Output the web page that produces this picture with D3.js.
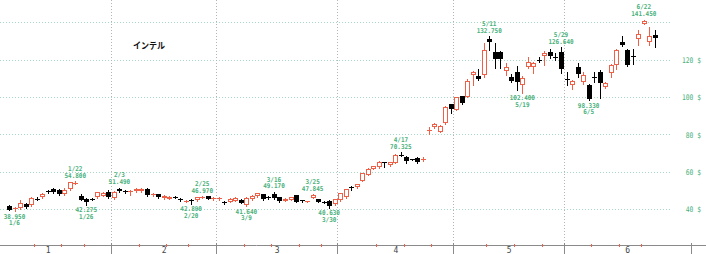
<!DOCTYPE html>
<html>
<head>
<meta charset="utf-8">
<script src="https://cdn.jsdelivr.net/npm/d3@7"></script>
<style>
  html, body { margin: 0; padding: 0; background: #fff; }
  svg { display: block; }
</style>
</head>
<body>
<div id="chart"></div>
<script>
var width = 706, height = 254;

// daily OHLC, one entry per trading day slot (Jan..Jun)
var open  = [41.6,40.2,40.4,42.7,42.1,45.6,46.2,49.6,50.6,50.2,47.9,50.6,53.7,47.0,45.4,45.6,46.4,47.2,49.3,
             45.7,50.5,49.8,49.1,49.4,49.5,50.7,47.7,47.8,45.8,45.6,46.5,45.6,44.3,44.8,44.8,46.0,46.8,45.2,
             45.1,43.9,43.8,44.5,44.8,42.4,45.3,46.7,47.9,46.5,47.9,46.3,44.4,44.9,47.5,44.6,44.0,46.0,45.2,44.0,44.5,42.7,
             44.8,46.3,51.6,51.8,55.2,58.3,61.5,62.3,65.0,63.6,64.9,69.2,67.7,66.6,67.4,66.2,82.0,83.7,81.2,86.0,96.2,
             93.2,100.4,100.2,111.7,111.4,111.6,131.0,124.3,124.4,113.7,110.5,113.6,106.6,116.0,116.0,120.0,121.8,124.3,121.7,124.0,
             109.8,106.5,116.3,108.2,106.5,110.9,113.6,105.3,112.7,117.0,129.3,125.1,121.8,131.0,139.4,129.7,133.2];
var high  = [42.2,40.9,44.6,43.4,46.5,46.3,48.6,50.2,51.2,50.9,51.1,54.5,54.8,48.0,45.8,46.0,49.3,49.0,50.0,
             49.5,51.49,50.3,50.0,51.3,51.0,51.0,48.6,48.2,47.3,46.9,46.9,46.0,45.0,45.1,46.5,46.97,46.9,46.3,
             46.2,44.3,45.8,46.3,45.1,46.3,47.3,48.7,48.3,46.9,49.17,46.6,45.9,46.5,47.7,45.0,44.5,47.845,45.6,44.4,44.8,45.5,
             48.7,50.9,52.3,53.6,59.4,62.0,63.3,65.5,65.4,65.3,69.3,70.325,68.6,66.8,67.8,67.6,84.2,86.3,84.8,95.2,96.5,
             100.0,100.6,109.5,113.8,115.0,129.2,132.75,128.8,124.8,118.0,112.5,116.6,111.5,121.6,119.0,121.5,124.5,125.5,123.4,126.64,
             113.6,109.3,118.5,113.2,106.8,113.6,114.5,108.2,117.6,125.5,132.5,125.8,125.6,135.9,141.45,137.7,135.9];
var low   = [39.3,38.95,40.2,40.6,41.8,44.8,45.8,48.6,48.8,47.5,47.6,50.3,53.2,44.6,42.275,44.9,46.0,46.9,46.0,
             45.5,49.0,48.5,47.5,49.0,48.9,47.2,47.0,46.0,45.5,45.4,45.7,44.5,43.6,42.89,44.5,45.8,45.3,44.9,
             44.8,42.8,43.5,44.2,43.1,41.64,45.0,46.4,45.0,45.6,45.4,44.0,44.1,44.6,43.6,44.0,43.8,45.7,43.5,43.3,40.63,42.4,
             44.5,46.0,50.4,51.5,54.9,58.0,61.2,62.0,62.6,63.3,64.6,68.5,64.8,66.0,64.9,65.6,80.0,83.2,81.0,85.7,91.3,
             93.0,96.2,100.0,106.2,109.2,111.0,125.0,115.4,115.4,111.7,108.0,104.0,102.4,115.5,113.1,118.6,117.2,120.8,119.8,113.0,
             106.5,104.1,110.6,107.2,98.33,108.0,99.5,104.8,110.6,115.0,127.3,116.5,117.7,128.0,139.0,128.0,127.0];
var close = [39.6,40.6,43.0,41.0,46.0,45.1,47.8,49.0,49.3,47.9,50.3,54.4,54.0,45.0,43.9,45.3,49.0,48.5,46.4,
             49.2,49.6,49.0,49.4,50.9,50.6,47.5,48.0,46.5,46.9,46.5,46.1,44.9,44.5,44.4,46.3,46.6,45.6,46.0,
             45.9,43.6,45.5,46.0,43.4,46.0,47.0,48.4,45.3,46.0,45.7,44.4,45.6,46.2,43.9,44.3,44.2,47.5,43.8,43.6,41.6,45.2,
             48.4,50.5,51.3,53.3,59.1,61.7,62.9,65.1,64.6,65.0,68.8,68.9,65.9,66.3,65.3,66.6,82.5,85.4,84.5,94.8,93.5,
             99.8,96.6,108.5,113.4,109.6,125.0,129.3,120.3,120.3,116.2,108.6,107.8,110.2,119.0,118.4,119.6,123.8,122.0,121.3,115.0,
             109.3,108.6,112.3,111.8,99.0,110.1,107.4,107.3,117.2,125.0,128.0,117.3,121.4,134.0,140.8,132.7,131.5];

// high / low annotations
var markIdx  = [1, 12, 14, 20, 33, 35, 43, 48, 55, 58, 71, 87, 93, 100, 105, 115];
var markDate = ["1/6","1/22","1/26","2/3","2/20","2/25","3/9","3/16","3/25","3/30","4/17","5/11","5/19","5/29","6/5","6/22"];
var markType = ["L","H","L","H","L","H","L","H","H","L","H","H","L","H","L","H"];

// month edges in day slots, labels
var monthEdges = [-4.5, 18.5, 37.5, 59.5, 80.5, 100.5, 123.5];
var monthNames = ["1","2","3","4","5","6"];
var weekTicks  = [4.5, 9.5, 13.5, 23.5, 28.5, 32.5, 42.5, 47.5, 52.5, 56.5, 66.5, 71.5, 76.5, 86.5, 91.5, 96.5, 105.5, 110.5, 114.5];

var gridValues = [40, 60, 80, 100, 120, 140];
var yLabelValues = [40, 60, 80, 100, 120];

var title = "インテル";

var red = "#ef6048", green = "#47b07a", gridGreen = "#a6dac4";
var monoFont = "'DejaVu Sans Mono', monospace";

var x = d3.scaleLinear().domain([0, 117]).range([9, 654.84]);
var y = d3.scaleLinear().domain([40, 140]).range([209, 22.4]);

var svg = d3.select("#chart").append("svg")
  .attr("width", width)
  .attr("height", height);

// horizontal grid
svg.append("g").selectAll("line")
  .data(gridValues).enter()
  .append("line")
  .attr("x1", 0).attr("x2", 672)
  .attr("y1", function(d) { return Math.round(y(d)) + 0.5; })
  .attr("y2", function(d) { return Math.round(y(d)) + 0.5; })
  .attr("stroke", gridGreen)
  .attr("stroke-dasharray", "1,2");

// month separators
svg.append("g").selectAll("line")
  .data(monthEdges.slice(1, 6)).enter()
  .append("line")
  .attr("x1", function(d) { return Math.round(x(d)) + 0.5; })
  .attr("x2", function(d) { return Math.round(x(d)) + 0.5; })
  .attr("y1", 0).attr("y2", 244)
  .attr("stroke", "#b4b4b4")
  .attr("stroke-dasharray", "1,2");

// y labels
var yAxis = d3.axisRight(y).tickValues(yLabelValues).tickSize(0)
  .tickFormat(function(d) { return d + " $"; });
var yg = svg.append("g").attr("transform", "translate(701,0)").call(yAxis);
yg.select(".domain").remove();
yg.selectAll("text")
  .attr("x", 0)
  .attr("dy", "0.36em")
  .attr("text-anchor", "end")
  .attr("fill", green)
  .style("font-family", monoFont)
  .style("font-size", "7.7px")
  .attr("textLength", function(d) { return (d + " $").length * 3.8; })
  .attr("lengthAdjust", "spacingAndGlyphs");

// x axis line
svg.append("line")
  .attr("x1", 0).attr("x2", width)
  .attr("y1", 245.5).attr("y2", 245.5)
  .attr("stroke", "#8a8a8a");

svg.append("g").selectAll("line")
  .data(monthEdges).enter()
  .append("line")
  .attr("x1", function(d) { return Math.round(x(d)) + 0.5; })
  .attr("x2", function(d) { return Math.round(x(d)) + 0.5; })
  .attr("y1", 243).attr("y2", 254)
  .attr("stroke", "#8a8a8a");

svg.append("g").selectAll("line")
  .data(weekTicks).enter()
  .append("line")
  .attr("x1", function(d) { return Math.round(x(d)) + 0.5; })
  .attr("x2", function(d) { return Math.round(x(d)) + 0.5; })
  .attr("y1", 244).attr("y2", 247)
  .attr("stroke", red);

var monthMid = monthNames.map(function(m, i) { return (monthEdges[i] + monthEdges[i + 1]) / 2; });
var xAxis = d3.axisBottom(x).tickValues(monthMid).tickSize(0)
  .tickFormat(function(d, i) { return monthNames[i]; });
var xg = svg.append("g").attr("transform", "translate(0,244)").call(xAxis);
xg.select(".domain").remove();
xg.selectAll("text")
  .attr("y", 9)
  .attr("dy", 0)
  .attr("fill", "#444")
  .style("font-family", monoFont)
  .style("font-size", "8px");

// title
svg.append("text")
  .attr("x", 133).attr("y", 48.5)
  .attr("textLength", 32)
  .attr("lengthAdjust", "spacingAndGlyphs")
  .style("font-family", "'Noto Sans CJK JP', sans-serif")
  .style("font-size", "9px")
  .style("font-weight", "bold")
  .attr("fill", "#111")
  .text(title);

// candles
var idx = d3.range(open.length);
var candles = svg.append("g").selectAll("g")
  .data(idx).enter()
  .append("g");

candles.each(function(i) {
  var g = d3.select(this);
  var p = Math.round(x(i));
  var up = close[i] >= open[i];
  var col = up ? red : "#000";
  var top = Math.round(y(Math.max(open[i], close[i])));
  var bot = Math.round(y(Math.min(open[i], close[i])));
  var h = Math.max(1, bot - top);

  g.append("line")
    .attr("x1", p + 0.5).attr("x2", p + 0.5)
    .attr("y1", Math.round(y(high[i])))
    .attr("y2", Math.round(y(low[i])) + 1)
    .attr("stroke", col);

  if (up && h >= 3) {
    g.append("rect")
      .attr("x", p - 1.5).attr("y", top + 0.5)
      .attr("width", 4).attr("height", h - 1)
      .attr("fill", "#fff")
      .attr("stroke", col);
  } else {
    g.append("rect")
      .attr("x", p - 2).attr("y", top)
      .attr("width", 5).attr("height", h)
      .attr("fill", col);
  }
});

// annotations: date and value lines
var fmt = d3.format(".3f");
var marks = svg.append("g").selectAll("g")
  .data(markIdx).enter()
  .append("g");

marks.each(function(ci, k) {
  var g = d3.select(this);
  var cx = x(ci);
  var lines;
  if (markType[k] == "H") {
    var yh = y(high[ci]);
    lines = [[markDate[k], yh - 10.2], [fmt(high[ci]), yh - 3.4]];
  } else {
    var yl = y(low[ci]);
    lines = [[fmt(low[ci]), yl + 7.6], [markDate[k], yl + 14.2]];
  }
  lines.forEach(function(l) {
    g.append("text")
      .attr("x", cx).attr("y", l[1])
      .attr("text-anchor", "middle")
      .attr("fill", green)
      .style("font-family", monoFont)
      .style("font-size", "6.6px")
      .style("font-weight", "bold")
      .attr("textLength", l[0].length * 3.6)
      .attr("lengthAdjust", "spacingAndGlyphs")
      .text(l[0]);
  });
});
</script>
</body>
</html>
